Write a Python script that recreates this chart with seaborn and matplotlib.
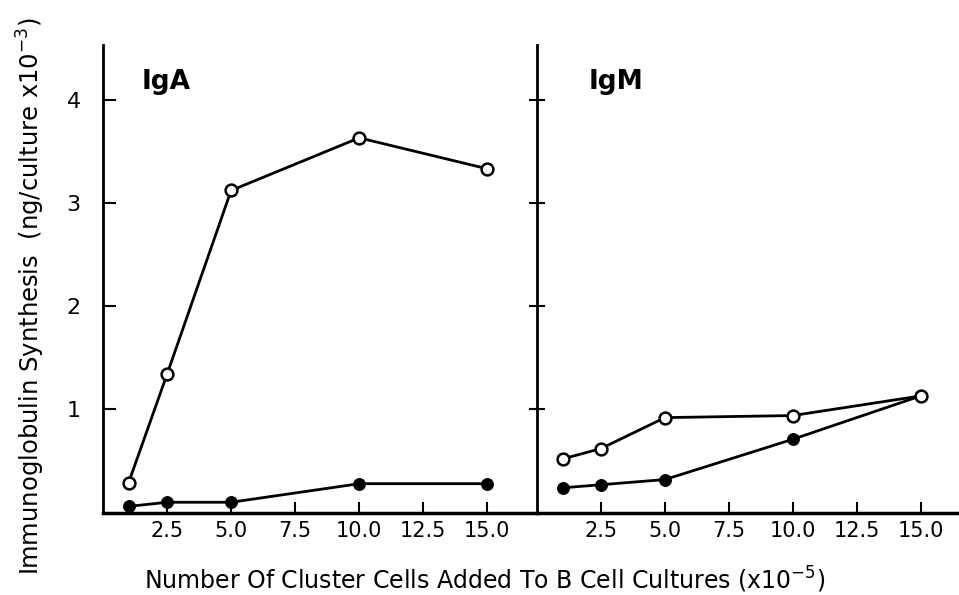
# Immunoglobulin synthesis vs number of cluster cells added (IgA / IgM panels)
import pandas as pd
import matplotlib.pyplot as plt
import seaborn as sns
import numpy as np

cells = [1.0, 2.5, 5.0, 10.0, 15.0]

# IgA panel
iga_open = [0.29, 1.34, 3.12, 3.63, 3.33]
iga_closed = [0.06, 0.10, 0.10, 0.28, 0.28]

# IgM panel
igm_open = [0.52, 0.62, 0.92, 0.94, 1.13]
igm_closed = [0.24, 0.27, 0.32, 0.71, 1.13]

x_ticks = [2.5, 5.0, 7.5, 10.0, 12.5, 15.0]
x_ticklabels = ["2.5", "5.0", "7.5", "10.0", "12.5", "15.0"]
y_ticks = [1, 2, 3, 4]

sns.set_style("ticks")
plt.rcParams['font.family'] = ['DejaVu Sans']
plt.rcParams['text.color'] = 'black'
plt.rcParams['xtick.color'] = 'black'
plt.rcParams['ytick.color'] = 'black'
plt.rcParams['axes.edgecolor'] = 'black'

fig = plt.figure(figsize=(9.59, 5.95), dpi=100)
ax1 = fig.add_axes([0.1074, 0.1385, 0.4526, 0.786])
ax2 = fig.add_axes([0.56, 0.1385, 0.44, 0.786])

panels = [(ax1, iga_open, iga_closed, "IgA", 16.94, 1.5),
          (ax2, igm_open, igm_closed, "IgM", 16.5, 2.0)]

for ax, open_vals, closed_vals, name, xmax, tx in panels:
    df = pd.DataFrame({"cells": cells, "open": open_vals, "closed": closed_vals})
    sns.lineplot(data=df, x="cells", y="closed", ax=ax, color="black", lw=2,
                 marker="o", markersize=8.5, markerfacecolor="black",
                 markeredgecolor="black", clip_on=False)
    sns.lineplot(data=df, x="cells", y="open", ax=ax, color="black", lw=2,
                 marker="o", markersize=8.5, markerfacecolor="white",
                 markeredgecolor="black", markeredgewidth=1.8, clip_on=False)
    ax.set_xlim(0, xmax)
    ax.set_ylim(0, 4.53)
    ax.set_xticks(x_ticks)
    ax.set_xticklabels(x_ticklabels, fontsize=15)
    ax.set_yticks(y_ticks)
    ax.set_xlabel("")
    ax.set_ylabel("")
    ax.spines['top'].set_visible(False)
    ax.spines['right'].set_visible(False)
    ax.spines['left'].set_linewidth(2)
    ax.spines['bottom'].set_linewidth(2.5)
    ax.tick_params(axis='x', direction='in', length=8, width=1.5, pad=6)
    ax.text(tx, 4.17, name, fontsize=19, fontweight='bold', ha='left', va='center')
    ax.patch.set_alpha(0)

ax1.tick_params(axis='y', direction='in', length=9, width=1.5, labelsize=16, pad=16)
ax2.tick_params(axis='y', direction='inout', length=12, width=1.5, labelleft=False)

fig.text(0.032, 0.502, "Immunoglobulin Synthesis  (ng/culture x10$^{-3}$)",
         rotation=90, ha='center', va='center', fontsize=17.5)
fig.text(0.505, 0.025, "Number Of Cluster Cells Added To B Cell Cultures (x10$^{-5}$)",
         ha='center', va='center', fontsize=17)

plt.savefig("out.png", dpi=100)
